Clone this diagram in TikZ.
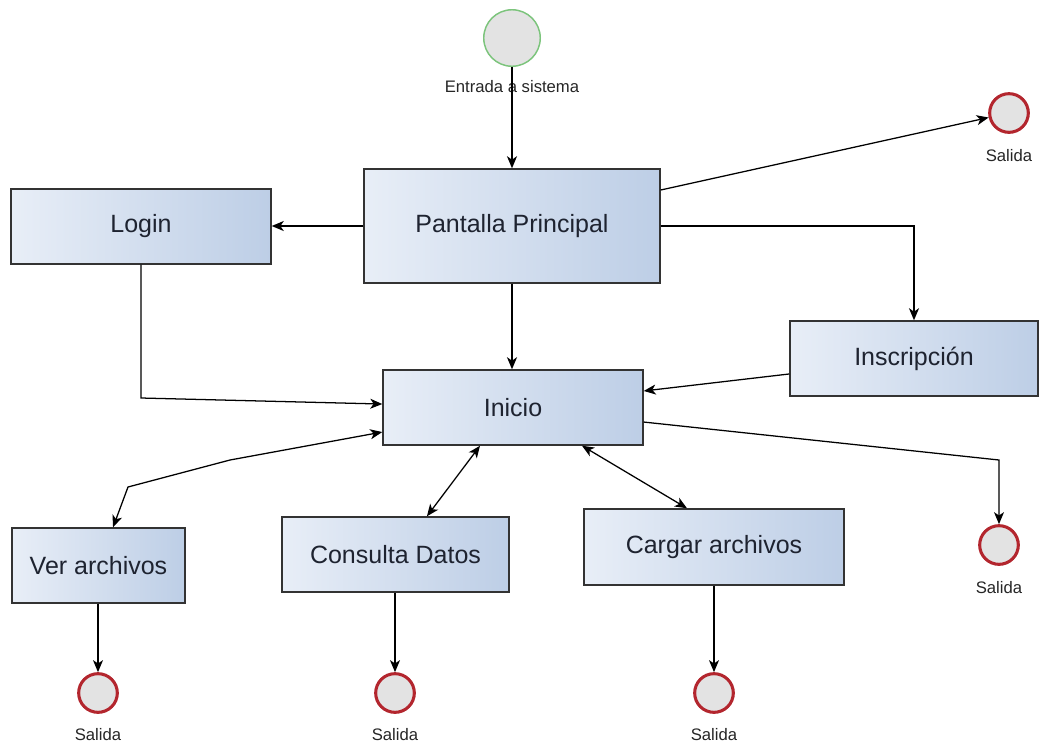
\documentclass[tikz,border=0pt]{standalone}
\usepackage{fontspec}
\setmainfont{Liberation Sans}
\usetikzlibrary{arrows.meta,calc}
\definecolor{boxleft}{HTML}{E8EEF7}
\definecolor{boxright}{HTML}{BDCEE6}
\definecolor{boxline}{HTML}{333333}
\definecolor{startline}{HTML}{7CC47C}
\definecolor{endline}{HTML}{B3262E}
\definecolor{evfill}{HTML}{E3E3E3}
\definecolor{txt}{HTML}{1E2330}
\begin{document}
\begin{tikzpicture}[x=0.75pt,y=-0.75pt,
  proc/.style={draw=boxline, line width=1.1pt, left color=boxleft, right color=boxright,
    text=txt, font=\fontsize{18.75}{22}\selectfont, inner sep=0pt, minimum height=56.25pt},
  startev/.style={circle, draw=startline, line width=1.1pt, fill=evfill, minimum size=42.4pt, inner sep=0pt},
  endev/.style={circle, draw=endline, line width=2.3pt, fill=evfill, minimum size=29pt, inner sep=0pt},
  evlabel/.style={font=\fontsize{12.5}{14}\selectfont, text=black!85, inner sep=0pt},
  tip/.tip={Stealth[length=9pt,width=7.5pt,inset=2.5pt]},
  flow/.style={line width=0.95pt, -tip},
  both/.style={line width=0.95pt, tip-tip}
]
\useasboundingbox (0,0) rectangle (1040,744);

% events
\node[startev] (entrada) at (512,38) {};
\node[evlabel] (lblEntrada) at (512,87) {Entrada a sistema};
\node[endev] (salidaA) at (1009,113) {};
\node[evlabel] (lblA) at (1009,156) {Salida};
\node[endev] (salidaD) at (999,545) {};
\node[evlabel] (lblD) at (999,588) {Salida};
\node[endev] (salidaV) at (98,693) {};
\node[evlabel] (lblV) at (98,735) {Salida};
\node[endev] (salidaC) at (395,693) {};
\node[evlabel] (lblC) at (395,735) {Salida};
\node[endev] (salidaG) at (714,693) {};
\node[evlabel] (lblG) at (714,735) {Salida};

% screens
\node[proc, minimum width=222pt, minimum height=85.5pt] (pantalla) at (512,226) {Pantalla Principal};
\node[proc, minimum width=195pt] (login) at (141,226.5) {Login};
\node[proc, minimum width=186pt] (inscripcion) at (914,358.5) {Inscripción};
\node[proc, minimum width=195pt] (inicio) at (513,407.5) {Inicio};
\node[proc, minimum width=129.75pt] (verarch) at (98.5,565.5) {Ver archivos};
\node[proc, minimum width=170.25pt] (consulta) at (395.5,554.5) {Consulta Datos};
\node[proc, minimum width=195pt, minimum height=57pt] (cargar) at (714,547) {Cargar archivos};

% connectors
\draw[flow] (entrada.south) -- (pantalla.north);
\draw[flow] (pantalla.west) -- (pantalla.west -| login.east);
\draw[flow] ([yshift=27pt]pantalla.east) -- (salidaA);
\draw[flow] (pantalla.east) -| (inscripcion.north);
\draw[flow] (pantalla.south) -- (pantalla.south |- inicio.north);
\draw[flow] (login.south) -- (login.south |- 0,398) -- ([yshift=2.6pt]inicio.west);
\draw[flow] ([yshift=-11.6pt]inscripcion.west) -- ([yshift=12.4pt]inicio.east);
\draw[flow] ([yshift=-10.9pt]inicio.east) -- (salidaD.north |- 0,460) -- (salidaD.north);
\draw[both] ([yshift=-18.4pt]inicio.west) -- (230,460) -- (128,487) -- ([xshift=10.9pt]verarch.north);
\draw[both] ([xshift=-24.75pt]inicio.south) -- ([xshift=23.6pt]consulta.north);
\draw[both] ([xshift=51.75pt]inicio.south) -- ([xshift=-20.25pt]cargar.north);
\draw[flow] (salidaV.north |- verarch.south) -- (salidaV.north);
\draw[flow] (salidaC.north |- consulta.south) -- (salidaC.north);
\draw[flow] (salidaG.north |- cargar.south) -- (salidaG.north);
\end{tikzpicture}
\end{document}
